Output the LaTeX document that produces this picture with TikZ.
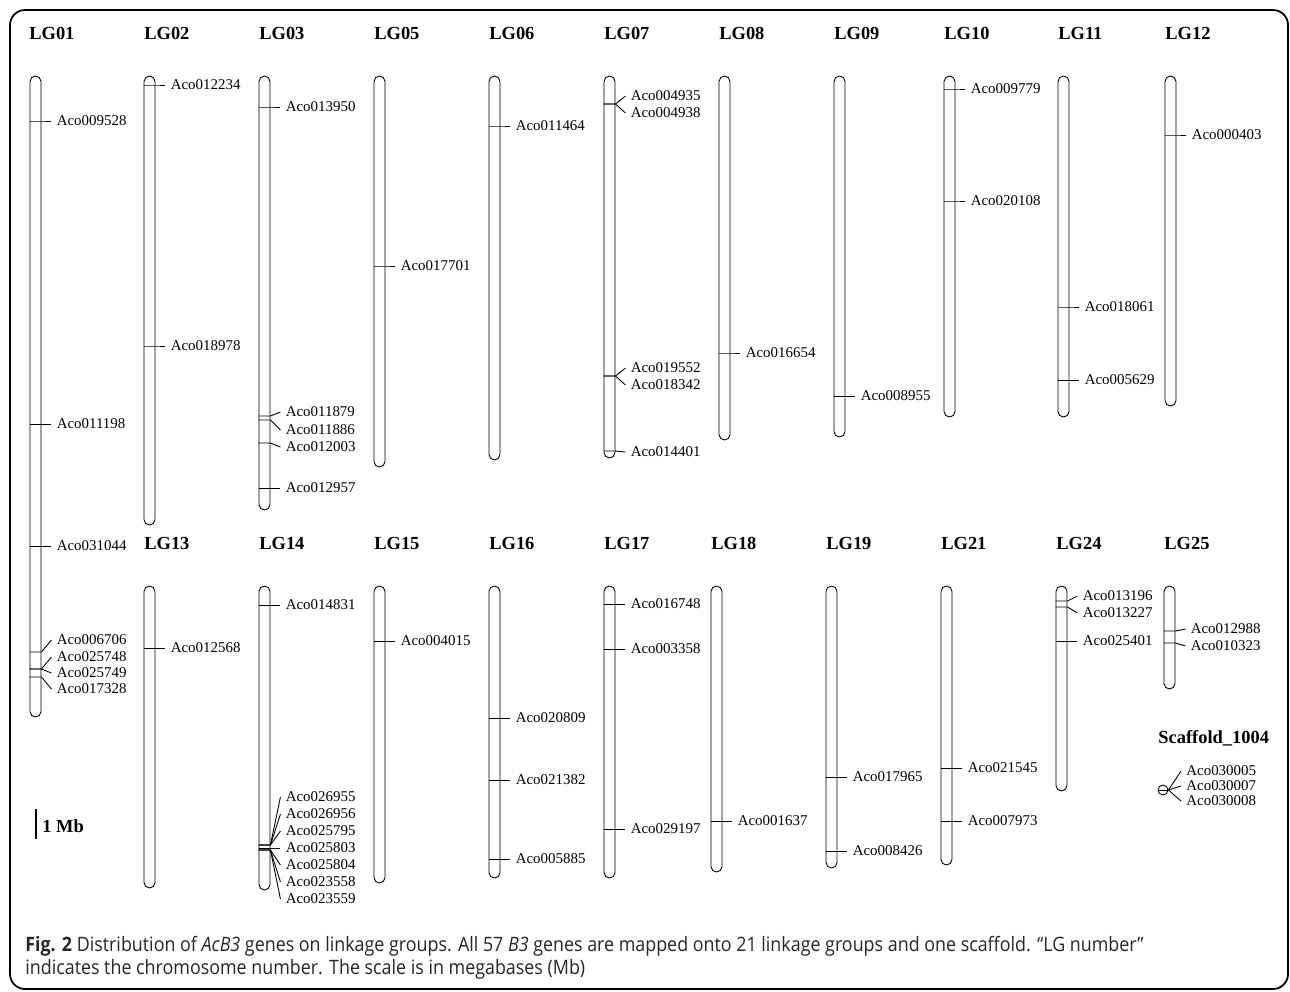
\documentclass[tikz,border=0pt]{standalone}
\usepackage{fontspec}
\setmainfont{Liberation Serif}
\newfontfamily\capfont[FakeStretch=0.9]{Open Sans}
\usepackage{tikz}
\usetikzlibrary{calc}

\begin{document}
\begin{tikzpicture}[
    x=0.02cm, y=-0.02cm,
    chrom/.style={rectangle, draw, rounded corners=0.11cm, minimum width=0.22cm, inner sep=0pt, line width=0.5pt},
    lgname/.style={anchor=west, inner sep=0pt, font=\fontsize{10.5}{12}\selectfont\bfseries},
    gene/.style={anchor=west, inner sep=0.1cm, font=\fontsize{8.5}{10}\selectfont},
    tick/.style={line width=0.5pt},
    caption/.style={anchor=west, inner sep=0pt, text=black!85, font=\capfont\fontsize{11.3}{13}\selectfont}
]
\useasboundingbox (0,0) rectangle (1290,991);

% Frame
\draw[line width=1pt, rounded corners=0.3cm] (10,10) rectangle (1288,989);

% Chromosomes
\foreach \n/\x/\t/\b in {LG01/30/76/717, LG02/144/76/525, LG03/259/76/510,
    LG05/374/76/467, LG06/489/76/460, LG07/604/76/458, LG08/719/76/440,
    LG09/834/76/437, LG10/944/76/417, LG11/1058/76/417, LG12/1165/76/406,
    LG13/144/586/888, LG14/259/586/890, LG15/374/586/883, LG16/489/586/878,
    LG17/604/586/878, LG18/711/586/872, LG19/826/586/868, LG21/941/586/865,
    LG24/1056/586/791, LG25/1164/586/689} {
    \pgfmathsetmacro\h{(\b-\t)*0.02}
    \node[chrom, minimum height=\h cm] (\n) at ({\x+5.5},{(\t+\b)/2}) {};
}

% Group names
\foreach \n/\x/\y in {LG01/29/33, LG02/144/33, LG03/259/33, LG05/374/33,
    LG06/489/33, LG07/604/33, LG08/719/33, LG09/834/33, LG10/944/33,
    LG11/1058/33, LG12/1165/33, LG13/144/543, LG14/259/543, LG15/374/543,
    LG16/489/543, LG17/604/543, LG18/711/543, LG19/826/543, LG21/941/543,
    LG24/1056/543, LG25/1164/543} {
    \node[lgname] (t\n) at (\x,\y) {\n};
}

% Genes
\foreach \chr/\y/\ly/\g in {LG01/121/121/Aco009528, LG01/424/424/Aco011198,
    LG01/546/546/Aco031044, LG01/652/640/Aco006706, LG01/669/657/Aco025748,
    LG01/669/673/Aco025749, LG01/677/689/Aco017328,
    LG02/85/85/Aco012234, LG02/346/346/Aco018978,
    LG03/107/107/Aco013950, LG03/416/412/Aco011879, LG03/420/430/Aco011886,
    LG03/443/447/Aco012003, LG03/488/488/Aco012957,
    LG05/266/266/Aco017701, LG06/126/126/Aco011464,
    LG07/104/96/Aco004935, LG07/104/113/Aco004938, LG07/376/368/Aco019552,
    LG07/376/385/Aco018342, LG07/451/452/Aco014401,
    LG08/353/353/Aco016654, LG09/396/396/Aco008955,
    LG10/89/89/Aco009779, LG10/201/201/Aco020108,
    LG11/307/307/Aco018061, LG11/380/380/Aco005629,
    LG12/135/135/Aco000403,
    LG13/648/648/Aco012568,
    LG14/605/605/Aco014831, LG14/845/797/Aco026955, LG14/845/814/Aco026956,
    LG14/845/831/Aco025795, LG14/848/848/Aco025803, LG14/850/865/Aco025804,
    LG14/850/882/Aco023558, LG14/850/899/Aco023559,
    LG15/641/641/Aco004015,
    LG16/718/718/Aco020809, LG16/780/780/Aco021382, LG16/859/859/Aco005885,
    LG17/604/604/Aco016748, LG17/649/649/Aco003358, LG17/829/829/Aco029197,
    LG18/821/821/Aco001637,
    LG19/777/777/Aco017965, LG19/851/851/Aco008426,
    LG21/768/768/Aco021545, LG21/821/821/Aco007973,
    LG24/601/596/Aco013196, LG24/607/613/Aco013227, LG24/641/641/Aco025401,
    LG25/631/629/Aco012988, LG25/643/646/Aco010323} {
    \node[gene] (\g) at ($(\chr.east |- 0,\ly)+(10,0)$) {\g};
    \draw[tick] (\chr.west |- 0,\y) -- (\chr.east |- 0,\y) -- (\g.west);
}

% Scaffold
\node[lgname] (tsc) at (1158,738) {Scaffold\_1004};
\node[draw, circle, minimum size=0.2cm, inner sep=0pt, line width=0.5pt] (sc) at (1163,790) {};
\draw[tick] (sc.west) -- (sc.east);
\foreach \ly/\g in {771/Aco030005, 786/Aco030007, 801/Aco030008} {
    \node[gene] (\g) at (1181,\ly) {\g};
    \draw[tick] (sc.east) -- (\g.west);
}

% Scale
\coordinate (mbtop) at (36,809);
\coordinate (mbbot) at (36,839);
\draw[line width=1.2pt] (mbtop) -- (mbbot);
\node[lgname] (mb) at (42,826) {1 Mb};

% Caption
\node[caption] (cap1) at (25,946) {\textbf{Fig. 2} Distribution of \textit{AcB3} genes on linkage groups. All 57 \textit{B3} genes are mapped onto 21 linkage groups and one scaffold. “LG number”};
\node[caption] (cap2) at (25,969) {indicates the chromosome number. The scale is in megabases (Mb)};

\end{tikzpicture}
\end{document}
